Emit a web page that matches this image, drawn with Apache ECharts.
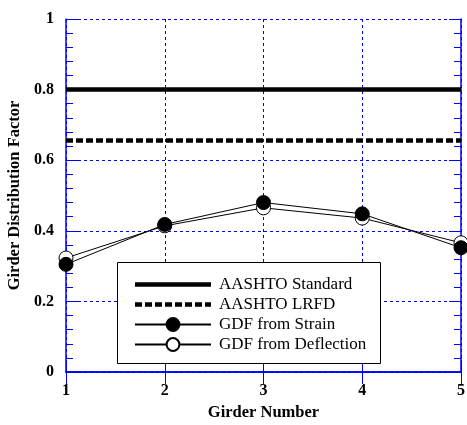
<!DOCTYPE html>
<html>
<head>
<meta charset="utf-8">
<script src="https://cdn.jsdelivr.net/npm/echarts@6/dist/echarts.min.js"></script>
<style>html,body{margin:0;padding:0;background:#fff;}#c{width:467px;height:425px;}</style>
</head>
<body>
<div id="c"></div>
<script>
const girders = [1, 2, 3, 4, 5];
const aashtoStandard = [0.8, 0.8, 0.8, 0.8, 0.8];
const aashtoLRFD = [0.656, 0.656, 0.656, 0.656, 0.656];
const gdfStrain = [0.305, 0.418, 0.480, 0.448, 0.352];
const gdfDeflection = [0.323, 0.414, 0.465, 0.436, 0.366];
const yTicks = [0, 0.2, 0.4, 0.6, 0.8, 1];

const pairs = arr => girders.map((g, i) => [g, arr[i]]);
const serif = '"Liberation Serif", "Times New Roman", serif';
const blue = '#0000ff';

// legend icon shapes (76 x 16 box, bar 4.5 high centred)
const solidIcon = 'path://M0,0 L76,0 L76,4.5 L0,4.5 Z';
let dashPath = '';
for (let x = 0; x < 76; x += 10) {
  const e = Math.min(x + 7, 76);
  dashPath += `M${x},0 L${e},0 L${e},4.5 L${x},4.5 Z `;
}
const dashIcon = 'path://' + dashPath.trim();

const chart = echarts.init(document.getElementById('c'), null, {renderer: 'canvas'});
const gridLine = () => ({show: true, lineStyle: {color: blue, type: [3, 3], width: 1}});
const tickFont = () => ({fontFamily: serif, fontWeight: 'bold', fontSize: 16, color: '#000'});
const nameFont = () => ({fontFamily: serif, fontWeight: 'bold', fontSize: 16.5, color: '#000'});
const frame = () => ({show: true, lineStyle: {color: blue, width: 1.5}});
const ticks = () => ({show: true, inside: true, length: 12, lineStyle: {color: blue, width: 1}});
chart.setOption({
  animation: false,
  backgroundColor: '#fff',
  grid: {left: 66, right: 6, top: 19, bottom: 53, containLabel: false, outerBoundsMode: 'none'},
  xAxis: [{
    type: 'value', min: 1, max: 5, interval: 1, position: 'bottom',
    name: 'Girder Number', nameLocation: 'middle', nameGap: 28,
    nameTextStyle: nameFont(),
    axisLine: frame(), axisTick: ticks(),
    axisLabel: Object.assign({margin: 11}, tickFont()),
    splitLine: gridLine()
  }, {
    type: 'value', min: 1, max: 5, interval: 1, position: 'top',
    axisLine: frame(), axisTick: ticks(),
    axisLabel: {show: false}, splitLine: {show: false}
  }],
  yAxis: [{
    type: 'value', min: 0, max: 1, interval: 0.2, position: 'left',
    name: 'Girder Distribution Factor', nameLocation: 'middle', nameGap: 42,
    nameTextStyle: nameFont(),
    axisLine: frame(), axisTick: ticks(),
    minorTick: {show: true, splitNumber: 5, length: 7, lineStyle: {color: blue, width: 1}},
    axisLabel: Object.assign({margin: 12,
      formatter: v => yTicks.includes(+v.toFixed(2)) ? String(+v.toFixed(1)) : ''}, tickFont()),
    splitLine: gridLine()
  }, {
    type: 'value', min: 0, max: 1, interval: 0.2, position: 'right',
    axisLine: frame(), axisTick: ticks(),
    minorTick: {show: true, splitNumber: 5, length: 7, lineStyle: {color: blue, width: 1}},
    axisLabel: {show: false}, splitLine: {show: false}
  }],
  legend: {
    orient: 'vertical', left: 134, top: 276, padding: 0,
    itemWidth: 76, itemHeight: 16, itemGap: 3, symbolKeepAspect: true,
    textStyle: {fontFamily: serif, fontSize: 17, color: '#000', padding: [0, 0, 0, 3]},
    data: [
      {name: 'AASHTO Standard', icon: solidIcon, itemStyle: {color: '#000', borderWidth: 0}},
      {name: 'AASHTO LRFD', icon: dashIcon, itemStyle: {color: '#000', borderWidth: 0}},
      {name: 'GDF from Strain'},
      {name: 'GDF from Deflection'}
    ]
  },
  graphic: [{
    type: 'rect', left: 117, top: 262, z: 1,
    shape: {width: 263, height: 101},
    style: {fill: '#fff', stroke: '#000', lineWidth: 1}
  }],
  series: [{
    name: 'AASHTO Standard', type: 'line', data: pairs(aashtoStandard),
    symbol: 'none', lineStyle: {color: '#000', width: 4.5}, itemStyle: {color: '#000'}, z: 3
  }, {
    name: 'AASHTO LRFD', type: 'line', data: pairs(aashtoLRFD),
    symbol: 'none', lineStyle: {color: '#000', width: 4.5, type: [7, 3]}, itemStyle: {color: '#000'}, z: 3
  }, {
    name: 'GDF from Deflection', type: 'line', data: pairs(gdfDeflection),
    symbol: 'circle', symbolSize: 14,
    lineStyle: {color: '#000', width: 1}, itemStyle: {color: '#fff', borderColor: '#000', borderWidth: 1}, z: 4
  }, {
    name: 'GDF from Strain', type: 'line', data: pairs(gdfStrain),
    symbol: 'circle', symbolSize: 14,
    lineStyle: {color: '#000', width: 1}, itemStyle: {color: '#000', borderColor: '#000', borderWidth: 1}, z: 5
  }]
});
</script>
</body>
</html>
